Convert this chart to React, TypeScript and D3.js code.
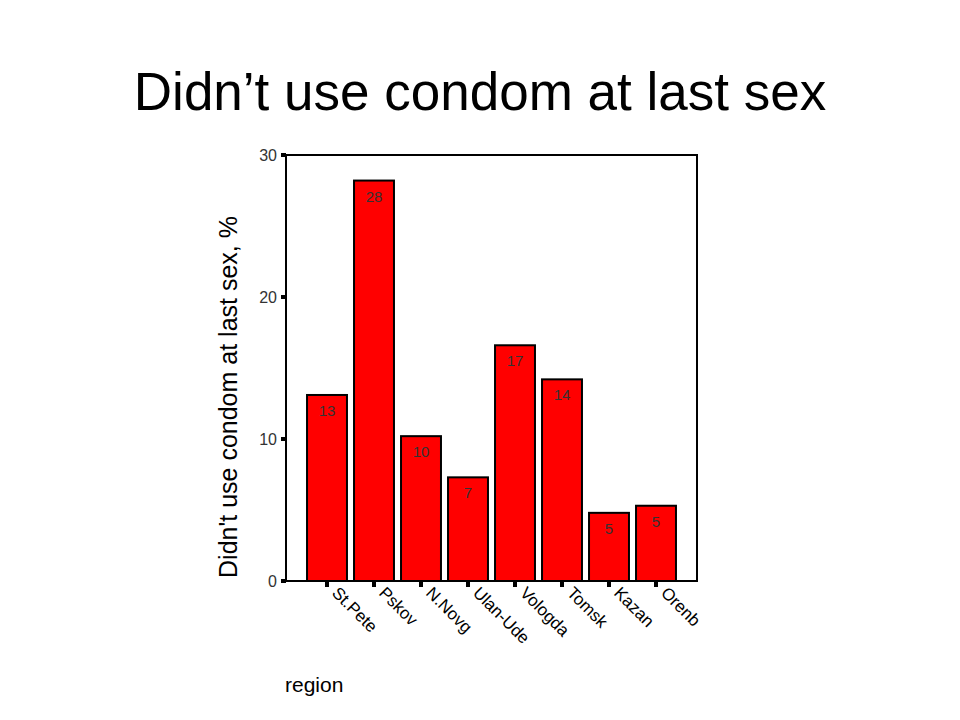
import React from "react";
import * as d3 from "d3";

const regions = ["St.Pete", "Pskov", "N.Novg", "Ulan-Ude", "Vologda", "Tomsk", "Kazan", "Orenb"];
const values = [13.1, 28.2, 10.2, 7.3, 16.6, 14.2, 4.8, 5.3];
const labels = ["13", "28", "10", "7", "17", "14", "5", "5"];
const yTicks = [0, 10, 20, 30];

const FONT = "'Liberation Sans', Arial, sans-serif";

export default function App() {
  const left = 286, right = 697, top = 155, bottom = 581;
  const y = d3.scaleLinear().domain([0, 30]).range([bottom, top]);
  const x = d3.scaleBand().domain(regions).range([303.5, 679.5]).paddingInner(0.15).paddingOuter(0.075);
  const bw = x.bandwidth();
  return (
    <svg width={960} height={720} style={{ position: "absolute", left: 0, top: 0, background: "#fff" }}>
      <text x={480} y={110} textAnchor="middle" fontFamily={FONT} fontSize={53} fill="#000">
        Didn’t use condom at last sex
      </text>
      {regions.map((r, i) => (
        <g key={r}>
          <rect x={x(r)!} y={y(values[i])} width={bw} height={bottom - y(values[i])} fill="#ff0000" stroke="#000" strokeWidth={2} />
          <text x={x(r)! + bw / 2} y={y(values[i]) + 21} textAnchor="middle" fontFamily={FONT} fontSize={15} fill="#333">
            {labels[i]}
          </text>
          <rect x={x(r)! + bw / 2 - 2} y={bottom + 1} width={4} height={5} fill="#000" />
          <text
            transform={`translate(${x(r)! + bw / 2 + 4},${bottom + 13}) rotate(45)`}
            fontFamily={FONT}
            fontSize={17}
            fill="#000"
          >
            {r}
          </text>
        </g>
      ))}
      <rect x={left} y={top} width={right - left} height={bottom - top} fill="none" stroke="#000" strokeWidth={2} />
      {yTicks.map((t) => (
        <g key={t}>
          <rect x={left - 5} y={y(t) - 2} width={5} height={4} fill="#000" />
          <text x={277} y={y(t) + 6} textAnchor="end" fontFamily={FONT} fontSize={16} fill="#333">
            {t}
          </text>
        </g>
      ))}
      <text
        transform={`translate(237,397) rotate(-90)`}
        textAnchor="middle"
        fontFamily={FONT}
        fontSize={25}
        fill="#000"
      >
        Didn't use condom at last sex, %
      </text>
      <text x={285} y={692} fontFamily={FONT} fontSize={21} fill="#000">
        region
      </text>
    </svg>
  );
}
